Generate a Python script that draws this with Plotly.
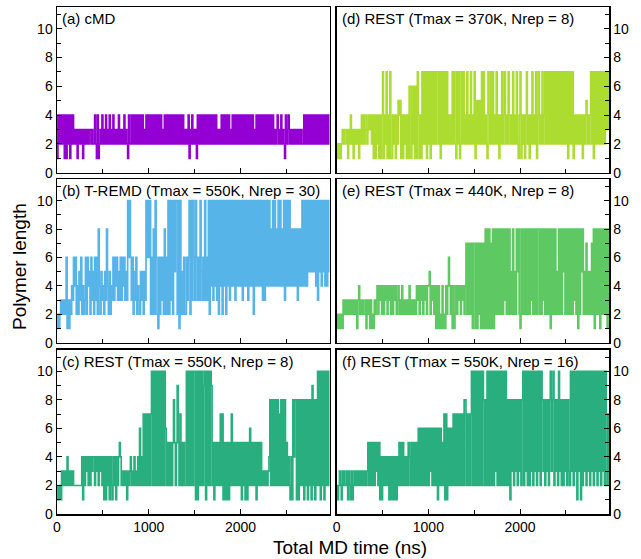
import plotly.graph_objects as go

# ---------------- data (polymer length per 10 ns sample; 'A' = 10) ----------------
dt_ns = 10

cmd_a = ("1424242414" "1424142423" "2313232313" "2323233232" "2421412324"
         "2324232423" "2423232423" "2324232142" "2424242424" "2424232424"
         "2424242424" "2424232424" "2424242424" "2424242423" "2324132423"
         "2314242424" "2424242424" "2424232324" "2424242423" "2424242424"
         "2424242424" "2424232424" "2424242424" "2424242323" "4232423214"
         "2342323232" "3232323224" "2424242424" "2424242424" "2424242424")

tremd_b = ("1212323232" "6131324364" "6242536242" "3626452635" "2636284253"
           "4253842524" "3636463536" "3646353A6A" "6362536243" "2535253A6A"
           "6A26282A62" "1626362826" "2A2A3A2A5A" "A2A1A25262" "2636A2A3A6"
           "3A6363A536" "3A363A2A4A" "3A4A3A2A4A" "2A4A2A4A3A" "4A4A3A4A4A"
           "4A3A4A4A3A" "4A4A2A4A4A" "4A4A3A3A4A" "4A484A4A48" "4A4A484A3A"
           "4A4A484848" "4838484A4A" "4A4A5A5A5A" "5A4A3A5A4A" "5A4A4A5A5A")

rest_c = ("1212132323" "2423232322" "2222222414" "2434242434" "4243424342"
          "4141424142" "1424142454" "2323231323" "4232423242" "6242727272"
          "727A2A2A2A" "2A2A2A2A62" "5252525852" "5952725252" "2A2A2A2A2A"
          "A1A1A2A2A2" "9A1A2A2A92" "5152525272" "7151515152" "7252525252"
          "5152515152" "6252525152" "5252323232" "3482828282" "8272828282"
          "5242141848" "8181828281" "8281828192" "8182A2A1A2" "A1A2A2A2A2")

rest_d = ("1212123232" "2313242313" "2323132424" "2342343424" "1414241414"
          "7142714171" "1424142545" "1414241416" "6162616174" "1417272717"
          "2717272727" "7271727272" "7242427272" "1727127272" "4272427242"
          "7152525272" "7242174272" "7242724142" "7247242742" "4272427214"
          "7142414724" "1427242714" "7242724727" "2727272727" "2727272727"
          "2717272714" "2424242414" "2452424727" "1727272727" "2727373737")

rest_e = ("1212121323" "2323232323" "2313423232" "2313231312" "1323424342"
          "4243424342" "4243423423" "2423232324" "2323232434" "2434243424"
          "4524342414" "1412141214" "2464241412" "4243424342" "4727272717"
          "7171727171" "7181818171" "8182828282" "8283828282" "5282528582"
          "1828282828" "2838282828" "8282838282" "8281828282" "5282828582"
          "8282828283" "8281828582" "5272525272" "8182828182" "8282818282")

rest_f = ("2123213232" "2313213123" "2323232323" "2323525252" "5253525141"
          "4242424141" "4141414252" "5252424254" "2525252526" "2626262626"
          "2636262626" "1626252717" "1626262727" "2727272728" "8272727A2A"
          "2A2A2A2A2A" "8282A2A2A2" "A2A3A2A2A2" "A2A2A28281" "8382838283"
          "828A2A3A2A" "2A3A2A3A2A" "3A2A838283" "828A38A283" "82A3828283"
          "82832A3A2A" "3A1A3A1A2A" "3A2A3A2A3A" "2A3A2A3A2A" "3A2A727372")

titles = ["(a) cMD",
          "(b) T-REMD (Tmax = 550K, Nrep = 30)",
          "(c) REST (Tmax = 550K, Nrep = 8)",
          "(d) REST (Tmax = 370K, Nrep = 8)",
          "(e) REST (Tmax = 440K, Nrep = 8)",
          "(f) REST (Tmax = 550K, Nrep = 16)"]
series = [cmd_a, tremd_b, rest_c, rest_d, rest_e, rest_f]
colors = ["#9400D3", "#56B4E9", "#29AF7F", "#ADDC30", "#5EC962", "#29AF7F"]
x_ticks = [0, 1000, 2000]
y_ticks = [0, 2, 4, 6, 8, 10]


def decode(s):
    return [10 if c == "A" else int(c) for c in s]


# ---------------- layout geometry ----------------
W, H = 641, 559
ml, mr, mt, mb = 57, 32, 7, 45
col_dom = [[0.0, 0.4937], [0.5067, 1.0]]
row_dom = [[0.673, 1.0], [0.338, 0.660], [0.0, 0.3235]]
FONT = "Liberation Sans, Arial, Helvetica, sans-serif"

fig = go.Figure()
layout = dict(
    width=W, height=H,
    margin=dict(l=ml, r=mr, t=mt, b=mb, pad=0, autoexpand=False),
    paper_bgcolor="white", plot_bgcolor="white",
    showlegend=False,
    font=dict(family=FONT, size=14, color="black"),
)

annotations = []
for i, (s, col, ttl) in enumerate(zip(series, colors, titles)):
    c = i // 3
    r = i % 3
    n = i + 1
    xa = "x" if n == 1 else f"x{n}"
    ya = "y" if n == 1 else f"y{n}"
    vals = decode(s)
    times = [k * dt_ns for k in range(len(vals))]
    fig.add_trace(go.Scatter(x=times, y=vals, mode="lines", line_shape="hv",
                             line=dict(color=col, width=1.7),
                             xaxis=xa, yaxis=ya, hoverinfo="skip"))
    layout["xaxis" if n == 1 else f"xaxis{n}"] = dict(
        domain=col_dom[c], anchor=ya, range=[0, 2970], automargin=False,
        tickmode="array", tickvals=x_ticks,
        ticks="inside", ticklen=5, tickwidth=1, tickcolor="black",
        minor=dict(dtick=500, tick0=0, ticks="inside", ticklen=4,
                   tickwidth=1, tickcolor="black"),
        showticklabels=(r == 2),
        tickfont=dict(family=FONT, size=14, color="black"),
        showline=True, linecolor="black", linewidth=1.5, mirror=True,
        showgrid=False, zeroline=False,
    )
    layout["yaxis" if n == 1 else f"yaxis{n}"] = dict(
        domain=row_dom[r], anchor=xa, range=[0, 11.5], automargin=False,
        tickmode="array", tickvals=y_ticks,
        side="left" if c == 0 else "right",
        ticks="inside", ticklen=5, tickwidth=1, tickcolor="black",
        minor=dict(dtick=1, tick0=0, ticks="inside", ticklen=4,
                   tickwidth=1, tickcolor="black"),
        tickfont=dict(family=FONT, size=14, color="black"),
        showline=True, linecolor="black", linewidth=1.5, mirror=True,
        showgrid=False, zeroline=False,
    )
    annotations.append(dict(
        text=ttl, xref=f"{xa} domain", yref=f"{ya} domain",
        x=0, y=1, xanchor="left", yanchor="top", xshift=3, yshift=-1,
        showarrow=False, font=dict(family=FONT, size=15, color="black"),
        bgcolor="rgba(255,255,255,0)"))

annotations.append(dict(text="Total MD time (ns)", xref="paper", yref="paper",
                        x=(350 - ml) / (W - ml - mr), y=(514 - 547) / (H - mt - mb),
                        xanchor="center", yanchor="middle", showarrow=False,
                        font=dict(family=FONT, size=19, color="black")))
annotations.append(dict(text="Polymer length", xref="paper", yref="paper",
                        x=(19 - ml) / (W - ml - mr), y=(514 - 267) / (H - mt - mb),
                        xanchor="center", yanchor="middle", textangle=-90,
                        showarrow=False,
                        font=dict(family=FONT, size=19, color="black")))
layout["annotations"] = annotations
fig.update_layout(**layout)

fig.write_html("out.html",
               config={"displayModeBar": False, "staticPlot": True},
               post_script="document.body.style.margin='0px';"
                           "document.body.style.overflow='hidden';")
